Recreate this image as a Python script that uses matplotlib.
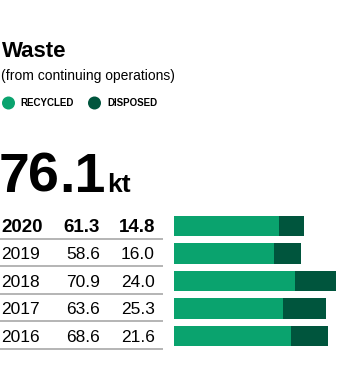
import matplotlib
matplotlib.use("Agg")
import matplotlib.pyplot as plt
from matplotlib.patches import Circle

# Data
years = ["2020", "2019", "2018", "2017", "2016"]
recycled = [61.3, 58.6, 70.9, 63.6, 68.6]
disposed = [14.8, 16.0, 24.0, 25.3, 21.6]
total_parts = ["7", "6", ".1"]   # 76.1, set in pieces for tight tracking
unit_label = "kt"

GREEN = "#0aa36e"
DARK = "#00553d"
LINE = "#a0a0a0"

plt.rcParams["font.family"] = ["Liberation Sans", "DejaVu Sans"]

W, H = 345, 391
fig = plt.figure(figsize=(W / 100, H / 100), dpi=100)

# Overlay in pixel units for the header
hdr = fig.add_axes([0, 0, 1, 1])
hdr.set_xlim(0, W)
hdr.set_ylim(H, 0)
hdr.axis("off")

hdr.text(2, 57, "Waste", fontsize=16, fontweight="bold", va="baseline")
hdr.text(1, 80, "(from continuing operations)", fontsize=10, va="baseline")

hdr.add_patch(Circle((8.5, 103), 6.5, color=GREEN, lw=0))
hdr.text(20, 106.5, "RECYCLED", fontsize=7, fontweight="bold", va="baseline")
hdr.add_patch(Circle((94.5, 103), 6.5, color=DARK, lw=0))
hdr.text(107, 106.5, "DISPOSED", fontsize=7, fontweight="bold", va="baseline")

# big headline number
part_x = [-1.5, 28.5, 59]
for part, px in zip(total_parts, part_x):
    hdr.text(px, 192, part, fontsize=40, fontweight="bold", va="baseline",
             ha="left")
hdr.text(107, 192, unit_label, fontsize=19, fontweight="bold", va="baseline")

# Table + bars share the same row layout
top_px, bot_px = 212.25, 349.75
ax_bottom = 1 - bot_px / H
ax_height = (bot_px - top_px) / H
n = len(years)

tab = fig.add_axes([0, ax_bottom, 174 / W, ax_height])
tab.set_xlim(0, 174)
tab.set_ylim(n - 0.5, -0.5)
tab.axis("off")

for i, yr in enumerate(years):
    wt = "bold" if i == 0 else "normal"
    fs = 13.5 if i == 0 else 12.5
    base = i + 0.21
    tab.text(1, base, yr, fontsize=fs, fontweight=wt, va="baseline", ha="left")
    tab.text(100, base, f"{recycled[i]:.1f}", fontsize=fs, fontweight=wt,
             va="baseline", ha="right")
    tab.text(155, base, f"{disposed[i]:.1f}", fontsize=fs, fontweight=wt,
             va="baseline", ha="right")
    tab.plot([0, 163], [i + 0.47, i + 0.47], color=LINE, lw=1.1,
             solid_capstyle="butt")

bars = fig.add_axes([174 / W, ax_bottom, 170.8 / W, ax_height])
ypos = list(range(n))
bars.barh(ypos, recycled, height=0.75, color=GREEN, lw=0)
bars.barh(ypos, disposed, left=recycled, height=0.75, color=DARK, lw=0)
bars.set_xlim(0, 100)
bars.set_ylim(n - 0.5, -0.5)
bars.axis("off")

fig.savefig("out.png", dpi=100)
